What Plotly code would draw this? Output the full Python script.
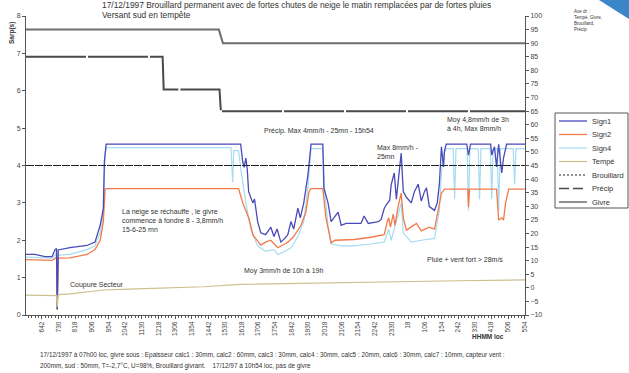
import plotly.graph_objects as go

# ---------------- data (minutes after 06:42 local) ----------------
tick_labels = ["642", "730", "818", "906", "954", "1042", "1130", "1218", "1306", "1354",
               "1442", "1530", "1618", "1706", "1754", "1842", "1930", "2018", "2106", "2154",
               "2242", "2330", "18", "106", "154", "242", "330", "418", "506", "554"]
tick_minutes = [0, 48, 96, 144, 192, 240, 288, 336, 384, 432, 480, 528, 576, 624, 672,
                720, 768, 816, 864, 912, 960, 1008, 1056, 1104, 1152, 1200, 1248, 1296, 1344, 1392]

t_sign1 = [-46, -20, 9, 29, 38, 42, 44, 47, 81, 130, 153, 168, 177, 180, 185, 573, 579, 583, 588, 592,
           596, 608, 613, 622, 631, 645, 660, 669, 678, 689, 700, 709, 718, 726, 738, 745, 755, 767,
           776, 810, 813, 825, 834, 842, 854, 863, 877, 900, 920, 929, 941, 958, 970, 978, 987, 993,
           1003, 1007, 1016, 1022, 1027, 1036, 1042, 1051, 1065, 1074, 1085, 1094, 1103, 1109, 1117,
           1132, 1140, 1146, 1152, 1158, 1161, 1166, 1225, 1230, 1236, 1294, 1297, 1305, 1311, 1317,
           1326, 1331, 1340, 1393]
v_sign1 = [1.62, 1.62, 1.56, 1.56, 1.75, 1.78, 0.15, 1.74, 1.80, 1.86, 1.95, 2.40, 2.85, 4.10, 4.57, 4.57,
           4.10, 3.95, 4.20, 3.90, 3.30, 3.00, 3.10, 2.50, 2.20, 2.15, 2.35, 2.10, 2.30, 1.95, 2.05,
           2.15, 2.50, 2.30, 2.86, 2.60, 3.00, 3.74, 4.57, 4.57, 3.40, 3.00, 2.50, 2.60, 2.75, 2.40,
           2.45, 2.45, 2.45, 2.65, 2.45, 2.48, 2.50, 2.55, 2.85, 2.95, 3.07, 3.48, 3.80, 3.10, 3.60,
           4.33, 3.30, 3.15, 3.00, 3.30, 3.50, 3.05, 3.30, 3.40, 2.90, 2.80, 3.00, 3.50, 4.50, 3.96,
           4.40, 4.57, 4.57, 4.28, 4.57, 4.57, 4.28, 4.50, 3.96, 4.57, 3.80, 4.20, 4.57, 4.57]

t_sign2 = [-46, 29, 38, 42, 44, 47, 81, 130, 153, 168, 177, 182, 185, 567, 579, 596, 602, 608, 631,
           645, 660, 680, 700, 709, 726, 747, 761, 770, 776, 810, 819, 828, 834, 845, 863, 900, 949,
           987, 996, 1000, 1005, 1013, 1018, 1027, 1036, 1042, 1051, 1080, 1094, 1117, 1132, 1140,
           1152, 1161, 1228, 1230, 1233, 1311, 1317, 1326, 1331, 1337, 1346, 1393]
v_sign2 = [1.48, 1.46, 1.52, 1.55, 0.15, 1.52, 1.53, 1.62, 1.75, 2.00, 2.50, 3.36, 3.38, 3.38, 3.00,
           2.60, 2.40, 2.15, 1.87, 1.95, 2.00, 1.80, 1.90, 1.95, 2.10, 2.40, 2.75, 3.30, 3.38, 3.38,
           2.60, 2.15, 1.93, 2.00, 2.00, 2.02, 2.08, 2.15, 2.50, 2.60, 2.35, 2.70, 2.40, 2.90, 3.26,
           2.60, 2.27, 2.45, 2.25, 2.35, 2.30, 2.70, 3.26, 3.37, 3.37, 2.89, 3.37, 3.37, 2.54, 2.60,
           2.54, 3.00, 3.37, 3.37]

t_sign4 = [-46, 29, 38, 42, 44, 47, 81, 130, 153, 168, 177, 182, 186, 545, 550, 553, 567, 575, 588,
           602, 622, 645, 669, 680, 700, 718, 738, 755, 767, 776, 810, 816, 825, 834, 863, 900, 949,
           987, 1000, 1007, 1022, 1036, 1042, 1065, 1094, 1132, 1146, 1152, 1158, 1166, 1186, 1190,
           1194, 1226, 1230, 1234, 1258, 1262, 1266, 1293, 1297, 1301, 1313, 1317, 1322, 1359, 1363,
           1367, 1393]
v_sign4 = [1.55, 1.52, 1.60, 1.65, 0.15, 1.60, 1.62, 1.75, 1.85, 2.20, 2.70, 4.30, 4.48, 4.48, 3.55,
           4.40, 4.40, 3.80, 3.00, 2.30, 1.85, 1.70, 1.75, 1.62, 1.70, 1.80, 2.10, 2.50, 3.40, 4.45,
           4.45, 3.20, 2.40, 1.90, 1.85, 1.85, 1.90, 1.95, 2.30, 2.00, 2.50, 3.00, 2.20, 1.95, 2.00,
           2.05, 2.80, 3.80, 4.30, 4.45, 4.45, 3.10, 4.45, 4.45, 2.80, 4.45, 4.45, 3.10, 4.45, 4.45,
           3.10, 4.45, 4.45, 2.80, 4.45, 4.45, 3.50, 4.45, 4.45]

t_temp = [-46, 20, 38, 42, 44, 47, 81, 130, 177, 250, 322, 466, 573, 750, 900, 1036, 1200, 1393]
v_temp = [-2.7, -2.8, -2.9, -2.9, -7.0, -2.5, -2.2, -1.5, -0.8, -0.5, -0.2, 0.4, 1.3, 1.7, 2.0, 2.4, 2.6, 2.9]

t_brouillard = [-46, 1393]
v_brouillard = [45, 45]

t_precip = [-46, 348, 351, 512, 516, 1393]
v_precip = [85, 85, 73, 73, 65, 65]

t_givre = [-46, 510, 522, 1393]
v_givre = [95, 95, 90, 90]

legend_names = ["Sign1", "Sign2", "Sign4", "Tempé", "Brouillard", "Précip", "Givre"]

# ---------------- layout helpers ----------------
W, H = 629, 373
L, R, T, B = 26, 525, 16, 315


def fx(x):
    return (x - L) / (R - L)


def fy(y):
    return (B - y) / (B - T)


FONT = "Arial, Liberation Sans, sans-serif"

styles = {
    "Sign1": dict(color="#4a4ab8", width=1.3),
    "Sign2": dict(color="#f27a4a", width=1.3),
    "Sign4": dict(color="#a6dcef", width=1.2),
    "Tempé": dict(color="#cdbf8e", width=1.2),
    "Brouillard": dict(color="#222222", width=1, dash="8px,1px"),
    "Précip": dict(color="#4a4a4a", width=2, dash="60px,2px"),
    "Givre": dict(color="#6e6e6e", width=2),
}

fig = go.Figure()

fig.add_trace(go.Scatter(x=t_givre, y=v_givre, name="Givre", yaxis="y2", mode="lines", line=styles["Givre"]))
fig.add_trace(go.Scatter(x=t_precip, y=v_precip, name="Précip", yaxis="y2", mode="lines", line=styles["Précip"]))
fig.add_trace(go.Scatter(x=t_brouillard, y=v_brouillard, name="Brouillard", yaxis="y2", mode="lines",
                         line=styles["Brouillard"]))
fig.add_trace(go.Scatter(x=t_temp, y=v_temp, name="Tempé", yaxis="y2", mode="lines", line=styles["Tempé"]))
fig.add_trace(go.Scatter(x=t_sign4, y=v_sign4, name="Sign4", mode="lines", line=styles["Sign4"]))
fig.add_trace(go.Scatter(x=t_sign2, y=v_sign2, name="Sign2", mode="lines", line=styles["Sign2"]))
fig.add_trace(go.Scatter(x=t_sign1, y=v_sign1, name="Sign1", mode="lines", line=styles["Sign1"]))

axis_common = dict(showgrid=False, zeroline=False, showline=True, linecolor="#555555", linewidth=1,
                   ticks="outside", tickcolor="#555555", ticklen=3,
                   tickfont=dict(size=7, color="#444444", family=FONT))

fig.update_layout(
    width=W, height=H,
    margin=dict(l=L, r=W - R, t=T, b=H - B, pad=0),
    paper_bgcolor="white", plot_bgcolor="white",
    font=dict(family=FONT, size=7, color="#333333"),
    xaxis=dict(range=[-46, 1393], tickmode="array", tickvals=tick_minutes, ticktext=tick_labels,
               tickangle=-90, minor=dict(dtick=9.6, tick0=0, ticks="outside", ticklen=2,
                                         tickcolor="#555555"),
               **{**axis_common, "tickfont": dict(size=6.5, color="#444444", family=FONT)}),
    yaxis=dict(range=[0, 8], dtick=1, **axis_common),
    yaxis2=dict(range=[-10, 100], dtick=5, overlaying="y", side="right", **axis_common),
    showlegend=False,
)

ann = []


def text(x, y, s, size=6.5, anchor="left", bold=False, angle=0, color="#333333"):
    ann.append(dict(x=fx(x), y=fy(y), xref="paper", yref="paper", text=("<b>%s</b>" % s) if bold else s,
                    showarrow=False, xanchor=anchor, yanchor="middle", textangle=angle,
                    font=dict(size=size, color=color, family=FONT), align="left"))


text(100, 5, "17/12/1997 Brouillard permanent avec de fortes chutes de neige le matin remplacées par de fortes pluies", size=8.4)
text(100, 15, "Versant sud en tempête", size=8.4)
text(12, 33, "Sarp(s)", size=6.5, anchor="center", bold=True, angle=-90)
text(572, 21, "Axe dr. :<br>Tempé, Givre,<br>Brouillard,<br>Précip", size=4.5)
text(262, 131, "Précip. Max 4mm/h - 25mn - 15h54", size=7)
text(375, 152, "Max 8mm/h -<br>25mn", size=7)
text(445, 124, "Moy 4,8mm/h de 3h<br>à 4h, Max 8mm/h", size=7)
text(120, 220, "La neige se réchauffe , le givre<br>commence à fondre 8 - 3,8mm/h<br>15-6-25 mn", size=7)
text(242, 271, "Moy 3mm/h de 10h à 19h", size=7)
text(425, 259, "Pluie + vent fort > 28m/s", size=7)
text(68, 285, "Coupure Secteur", size=7)
text(470, 336, "HHMM loc", size=6.5, bold=True)
text(38, 355, "17/12/1997 à 07h00 loc, givre sous : Epaisseur calc1 : 30mm, calc2 : 60mm, calc3 : 30mm, calc4 : 30mm, "
              "calc5 : 20mm, calc6 : 30mm, calc7 : 10mm, capteur vent :", size=6.4)
text(38, 366, "200mm, sud : 50mm, T=-2,7°C, U=98%, Brouillard givrant.    17/12/97 à 10h54 loc, pas de givre", size=6.4)

# legend box (compact, like the original)
shapes = [dict(type="rect", xref="paper", yref="paper", x0=fx(555), x1=fx(628), y0=fy(208), y1=fy(113),
               line=dict(color="#555555", width=1), fillcolor="white", layer="above")]
for i, name in enumerate(legend_names):
    yy = 121 + i * 13.5
    st = styles[name]
    shapes.append(dict(type="line", xref="paper", yref="paper", x0=fx(559), x1=fx(587), y0=fy(yy), y1=fy(yy),
                       line=dict(color=st["color"], width=min(st["width"], 1.5),
                                 dash={"Précip": "10px,4px", "Brouillard": "2px,2px"}.get(name, "solid")),
                       layer="above"))
    text(590, yy, name, size=7.5)

shapes.append(dict(type="path", xref="paper", yref="paper",
                   path="M %f %f L %f %f L %f %f Z" % (fx(599), fy(0), fx(629), fy(0), fx(629), fy(19)),
                   fillcolor="#3a86c8", line=dict(width=0), layer="above"))

fig.update_layout(annotations=ann, shapes=shapes)

fig.write_html("out.html", config={"displayModeBar": False},
               post_script="document.body.style.margin='0px';document.body.style.overflow='hidden';")
